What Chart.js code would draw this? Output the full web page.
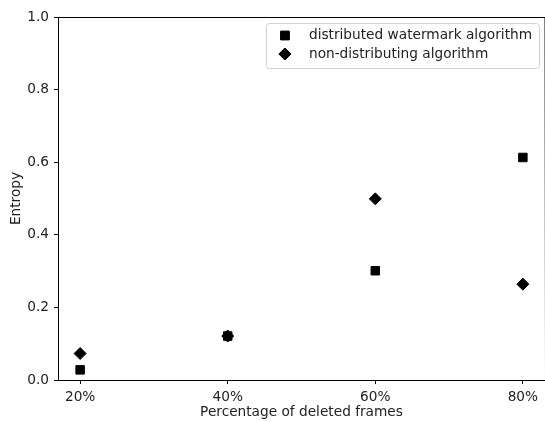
<!DOCTYPE html>
<html>
<head>
<meta charset="utf-8">
<script src="https://cdn.jsdelivr.net/npm/chart.js@4.4.1/dist/chart.umd.min.js"></script>
<style>
  html, body { margin: 0; padding: 0; background: #fff; }
  #wrap { width: 545px; height: 422px; }
</style>
</head>
<body>
<div id="wrap"><canvas id="grafico"></canvas></div>
<script>
// percentage of deleted frames
const porcentajes = [20, 40, 60, 80];
const distribuido = [0.028, 0.121, 0.301, 0.613];
const noDistribuido = [0.073, 0.121, 0.499, 0.264];
const ticksY = [0, 0.2, 0.4, 0.6, 0.8, 1.0];

const fuente = { family: "'DejaVu Sans', sans-serif", size: 13.7 };
const colorTexto = '#222';

function puntos(valores) {
  return porcentajes.map((p, i) => ({ x: p, y: valores[i] }));
}

// top and right spines (the right one falls on the canvas edge)
const marco = {
  id: 'marco',
  afterDraw(chart) {
    const { ctx, chartArea: a } = chart;
    ctx.save();
    ctx.strokeStyle = '#000';
    ctx.lineWidth = 1;
    ctx.beginPath();
    ctx.moveTo(a.left, a.top + 0.5);
    ctx.lineTo(a.right, a.top + 0.5);
    ctx.lineTo(a.right + 0.5, a.bottom);
    ctx.stroke();
    ctx.restore();
  }
};

// legend box in the upper right corner
const leyenda = {
  id: 'leyenda',
  afterDraw(chart) {
    const { ctx, chartArea: a } = chart;
    const sets = chart.data.datasets;
    ctx.save();
    ctx.font = `${fuente.size}px ${fuente.family}`;
    let anchoTexto = 0;
    sets.forEach(ds => { anchoTexto = Math.max(anchoTexto, ctx.measureText(ds.label).width); });
    const derecha = a.right - 6;
    const izquierda = derecha - (43 + anchoTexto + 7);
    const arriba = a.top + 6;
    const alto = 45;
    ctx.fillStyle = 'rgba(255,255,255,0.8)';
    ctx.strokeStyle = '#d0d0d0';
    ctx.lineWidth = 1;
    ctx.beginPath();
    ctx.roundRect(izquierda + 0.5, arriba + 0.5, derecha - izquierda, alto, 3);
    ctx.fill();
    ctx.stroke();
    sets.forEach((ds, i) => {
      const y = arriba + 12.5 + i * 18.5;
      ctx.fillStyle = '#000';
      ctx.strokeStyle = '#000';
      Chart.helpers.drawPoint(ctx, { pointStyle: ds.pointStyle, radius: ds.pointRadius, borderWidth: 1 }, izquierda + 19, y);
      ctx.fill();
      ctx.stroke();
      ctx.fillStyle = colorTexto;
      ctx.textBaseline = 'middle';
      ctx.fillText(ds.label, izquierda + 43, y);
    });
    ctx.restore();
  }
};

document.addEventListener("DOMContentLoaded", () => {
  const lienzo = document.querySelector("#grafico");
  new Chart(lienzo, {
    type: 'scatter',
    data: {
      datasets: [
        {
          label: 'distributed watermark algorithm',
          data: puntos(distribuido),
          pointStyle: 'rect',
          pointRadius: 6,
          pointHoverRadius: 6,
          backgroundColor: '#000',
          borderColor: '#000',
          borderWidth: 1
        },
        {
          label: 'non-distributing algorithm',
          data: puntos(noDistribuido),
          pointStyle: 'rectRot',
          pointRadius: 6,
          pointHoverRadius: 6,
          backgroundColor: '#000',
          borderColor: '#000',
          borderWidth: 1
        }
      ]
    },
    options: {
      responsive: true,
      maintainAspectRatio: false,
      animation: false,
      layout: { autoPadding: false, padding: { top: 17, right: 0, left: 0, bottom: 0 } },
      plugins: {
        legend: { display: false },
        tooltip: { enabled: false }
      },
      scales: {
        x: {
          type: 'linear',
          min: 17,
          max: 83,
          afterBuildTicks(scale) { scale.ticks = porcentajes.map(v => ({ value: v })); },
          afterFit(scale) {
            scale.height = 42;
            scale.paddingLeft = 0;
            scale.paddingRight = 0;
          },
          ticks: {
            callback: v => v + '%',
            font: fuente,
            color: colorTexto,
            padding: 5,
            maxRotation: 0
          },
          grid: { drawOnChartArea: false, tickLength: 4, color: '#000' },
          border: { color: '#000' },
          title: { display: true, text: 'Percentage of deleted frames', font: fuente, color: colorTexto, padding: { top: 2, bottom: 1 } }
        },
        y: {
          min: 0,
          max: 1,
          afterBuildTicks(scale) { scale.ticks = ticksY.map(v => ({ value: v })); },
          afterFit(scale) { scale.width = 58; },
          ticks: {
            callback: v => v.toFixed(1),
            font: fuente,
            color: colorTexto,
            padding: 5
          },
          grid: { drawOnChartArea: false, tickLength: 4, color: '#000' },
          border: { color: '#000' },
          title: { display: true, text: 'Entropy', font: fuente, color: colorTexto, padding: { top: 8, bottom: 4 } }
        }
      }
    },
    plugins: [marco, leyenda]
  });
});
</script>
</body>
</html>
